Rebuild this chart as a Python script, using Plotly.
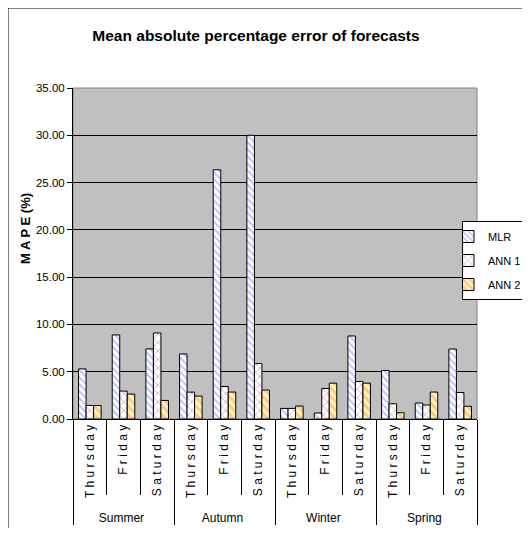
import plotly.graph_objects as go

# ---- data ----
seasons = ["Summer", "Autumn", "Winter", "Spring"]
days = ["Thursday", "Friday", "Saturday"]
series_names = ["MLR", "ANN 1", "ANN 2"]

mlr = [5.30, 8.89, 7.41, 6.88, 26.35, 30.00, 1.12, 0.63, 8.78, 5.13, 1.69, 7.40]
ann1 = [1.43, 2.95, 9.10, 2.84, 3.44, 5.86, 1.12, 3.23, 3.97, 1.61, 1.48, 2.80]
ann2 = [1.43, 2.63, 1.96, 2.42, 2.85, 3.06, 1.37, 3.79, 3.79, 0.66, 2.85, 1.35]

y_ticks = [0, 5, 10, 15, 20, 25, 30, 35]

# ---- geometry (the page body adds an 8px offset; keep the page from scrolling) ----
OFF = 8
W, H = 522, 520
PL, PR, PT, PB = 73, 477, 88, 419      # plot area in screen pixels
L, T = PL - OFF, PT - OFF
R, B = W - (PR - OFF), H - (PB - OFF)
PW = PR - PL
PH = PB - PT


def px_x(px):
    return (px - PL) / PW


def px_y(py):
    return (PB - py) / PH


outer = [s for s in seasons for _ in days]
inner = [" ".join(d) for _ in seasons for d in days]

styles = [
    dict(color="white", pattern=dict(shape="\\", fgcolor="#8080ff", size=5, solidity=0.38)),
    dict(color="white", pattern=dict(shape="x", fgcolor="#993366", size=6, solidity=0.22)),
    dict(color="#ffff99", pattern=dict(shape="\\", fgcolor="#ff80c0", size=6, solidity=0.5)),
]

fig = go.Figure()
for name, vals, st in zip(series_names, [mlr, ann1, ann2], styles):
    fig.add_trace(go.Bar(
        x=[outer, inner], y=vals, name=name, legendgroup=name,
        marker=dict(color=st["color"], pattern=st["pattern"],
                    line=dict(color="black", width=1)),
    ))

fig.update_layout(
    width=W, height=H,
    margin=dict(l=L, r=R, t=T, b=B, autoexpand=False),
    paper_bgcolor="white", plot_bgcolor="#c0c0c0",
    barmode="group", bargap=0.33, bargroupgap=0,
    title=dict(text="<b>Mean absolute percentage error of forecasts</b>",
               font=dict(family="Liberation Sans, Arial", size=15.5, color="black"),
               x=(256 - OFF) / W, xref="container", xanchor="center",
               y=1 - (35.5 - OFF) / H, yref="container", yanchor="middle"),
    legend=dict(x=px_x(462), y=px_y(221), xanchor="left", yanchor="top",
                bgcolor="white", bordercolor="black", borderwidth=1,
                indentation=-15,
                font=dict(family="Liberation Sans, Arial", size=11, color="black"),
                tracegroupgap=5, itemwidth=30),
    xaxis=dict(type="multicategory", showdividers=True, dividercolor="black", dividerwidth=1,
               ticks="outside", ticklen=75, tickcolor="black", tickwidth=1,
               tickangle=-90,
               tickfont=dict(family="Liberation Sans, Arial", size=12, color="black"),
               showline=True, linecolor="black", linewidth=1, showgrid=False),
    yaxis=dict(range=[0, 35], tickvals=y_ticks, tickformat=".2f",
               ticks="outside", ticklen=5, tickcolor="black",
               showgrid=True, gridcolor="black", gridwidth=1,
               showline=True, linecolor="black", linewidth=1, zeroline=False,
               tickfont=dict(family="Liberation Sans, Arial", size=11.5, color="black")),
    annotations=[dict(text="<b>M A P E (%)</b>", textangle=-90, showarrow=False,
                      xref="paper", yref="paper", x=px_x(25), y=px_y(229),
                      xanchor="center", yanchor="middle",
                      font=dict(family="Liberation Sans, Arial", size=13, color="black"))],
    shapes=[
        dict(type="rect", xref="paper", yref="paper", x0=0, x1=1, y0=0, y1=1,
             line=dict(color="#808080", width=1), layer="below"),
        dict(type="rect", xref="paper", yref="paper",
             x0=px_x(8), x1=px_x(525), y0=px_y(535), y1=px_y(8),
             line=dict(color="black", width=1), fillcolor="rgba(0,0,0,0)"),
    ],
)

fig.write_html("out.html")
